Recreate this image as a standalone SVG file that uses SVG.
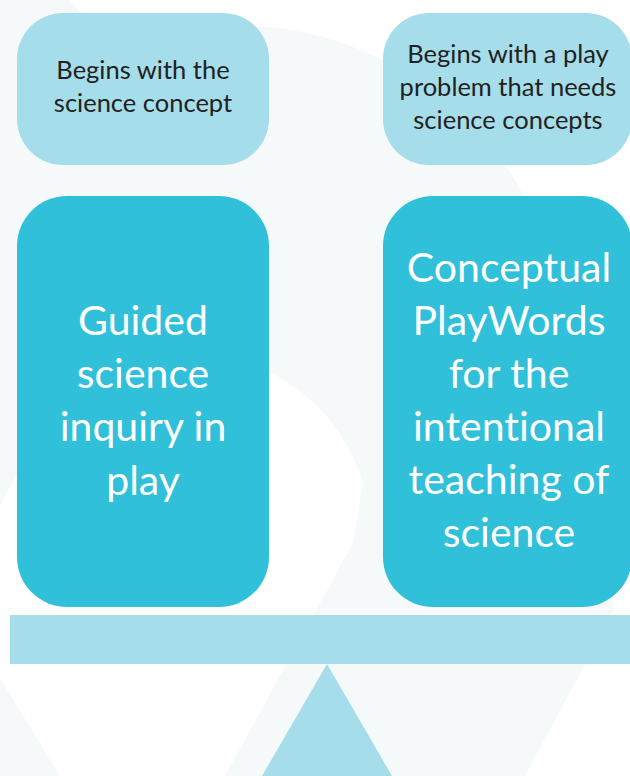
<svg xmlns="http://www.w3.org/2000/svg" width="630" height="776" viewBox="0 0 630 776">
<style>
.bg{fill:#f5f9f9}
.light{fill:#a5ddeb}
.dark{fill:#31c0da}
.small{font-family:Lato,"Open Sans","Liberation Sans",sans-serif;font-size:25.5px;fill:#231f20;text-anchor:middle;font-variant-ligatures:none}
.big{font-family:Lato,"Open Sans","Liberation Sans",sans-serif;font-size:41px;fill:#ffffff;text-anchor:middle;font-variant-ligatures:none}
</style>
<rect width="630" height="776" fill="#ffffff"/>
<g id="background">
<path class="bg" d="M0,0 L70,0 C77,14 100,24 150,25 L269,27 A329,329 0 0 1 560,297 L614,610 L525,776 L0,776 Z"/>
<path fill="#ffffff" d="M0,505 L17,475 A182,182 0 0 1 363,483 L353,543 L225,776 L60,776 L0,678 Z"/>
</g>
<g id="connectors"/>
<g id="node-begins-concept">
<rect class="light" x="17" y="13" width="252" height="152" rx="46" ry="46"/>
<text class="small" x="143" y="79">Begins with the</text>
<text class="small" x="143" y="112">science concept</text>
</g>
<g id="node-begins-problem">
<rect class="light" x="383" y="13" width="249" height="152" rx="46" ry="46"/>
<text class="small" x="508" y="63">Begins with a play</text>
<text class="small" x="508" y="96">problem that needs</text>
<text class="small" x="508" y="129">science concepts</text>
</g>
<g id="node-guided">
<rect class="dark" x="17" y="196" width="252" height="411" rx="50" ry="50"/>
<text class="big" x="143" y="335">Guided</text>
<text class="big" x="143" y="388">science</text>
<text class="big" x="143" y="441">inquiry in</text>
<text class="big" x="143" y="495">play</text>
</g>
<g id="node-conceptual">
<rect class="dark" x="383" y="196" width="249" height="411" rx="50" ry="50"/>
<text class="big" x="509" y="282">Conceptual</text>
<text class="big" x="509" y="335">PlayWords</text>
<text class="big" x="509" y="388">for the</text>
<text class="big" x="509" y="441">intentional</text>
<text class="big" x="509" y="494">teaching of</text>
<text class="big" x="509" y="547">science</text>
</g>
<g id="seesaw-beam">
<rect class="light" x="10" y="615" width="625" height="49"/>
</g>
<g id="seesaw-fulcrum">
<polygon class="light" points="327,664 262,776 392,776"/>
</g>
</svg>
